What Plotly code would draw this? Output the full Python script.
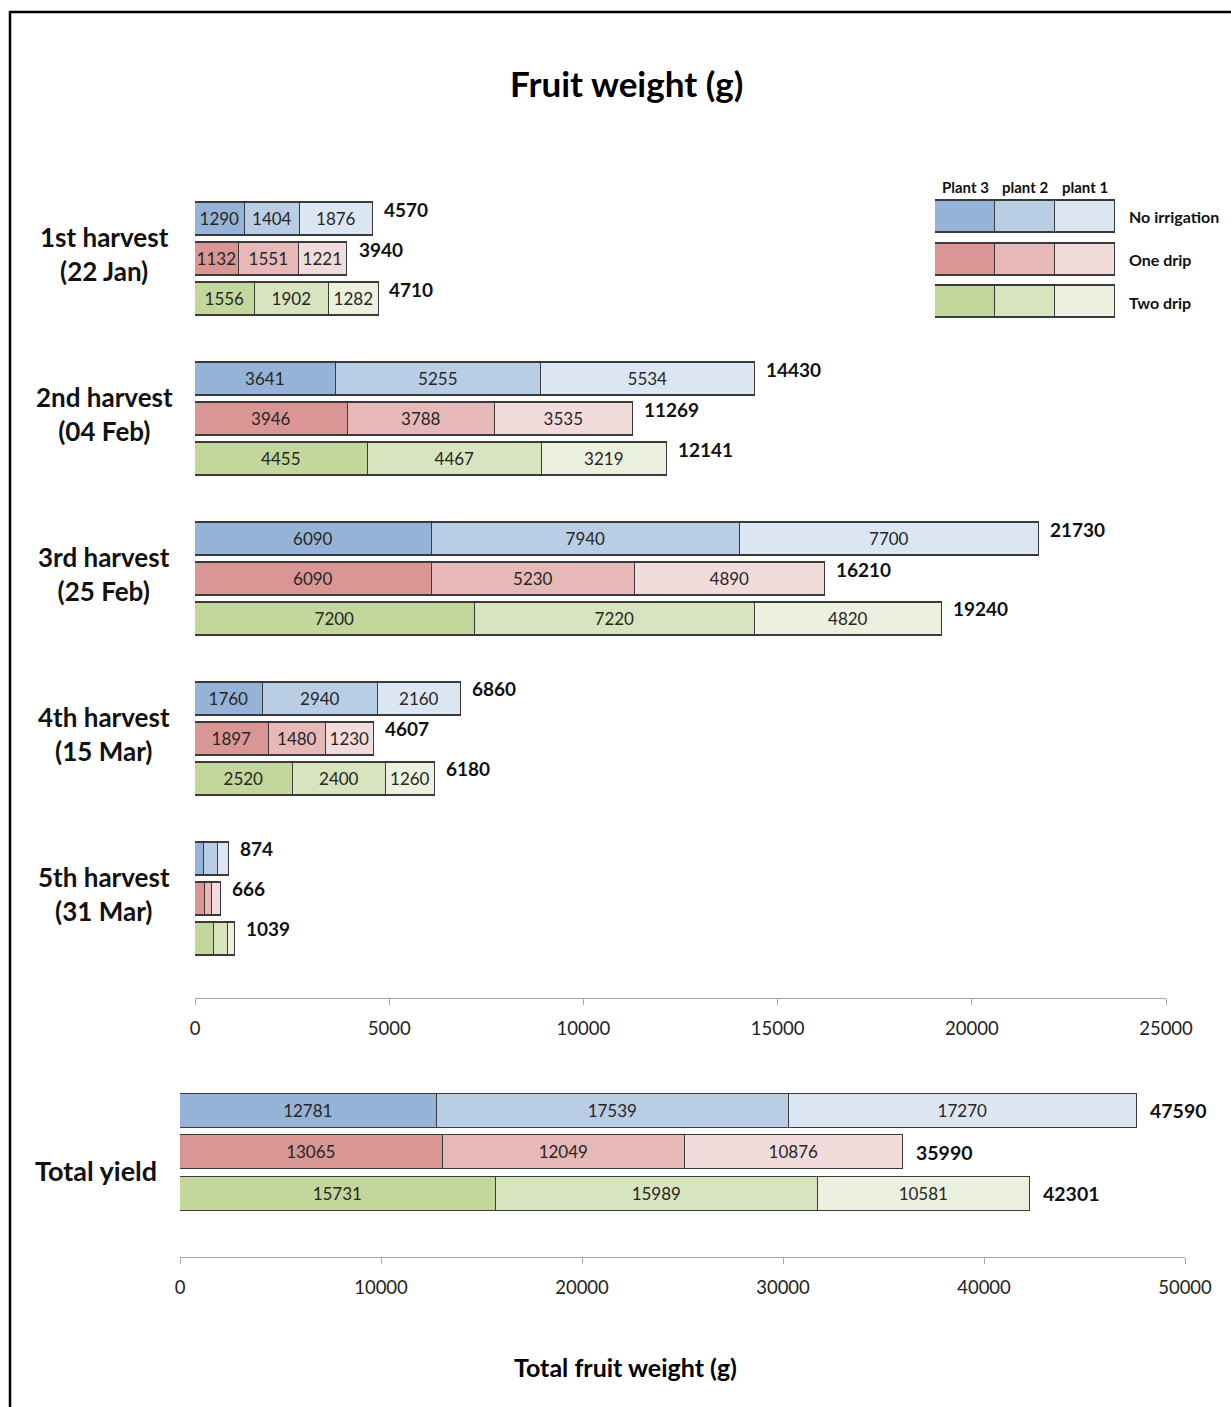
import plotly.graph_objects as go

# ---------------- data ----------------
harvests = ["1st harvest<br>(22 Jan)", "2nd harvest<br>(04 Feb)", "3rd harvest<br>(25 Feb)",
            "4th harvest<br>(15 Mar)", "5th harvest<br>(31 Mar)"]
treatments = ["No irrigation", "One drip", "Two drip"]
plants = ["Plant 3", "plant 2", "plant 1"]

plant3 = [[1290, 1132, 1556], [3641, 3946, 4455], [6090, 6090, 7200], [1760, 1897, 2520], [220, 265, 500]]
plant2 = [[1404, 1551, 1902], [5255, 3788, 4467], [7940, 5230, 7220], [2940, 1480, 2400], [380, 160, 345]]
plant1 = [[1876, 1221, 1282], [5534, 3535, 3219], [7700, 4890, 4820], [2160, 1230, 1260], [274, 241, 194]]
harvest_totals = [[4570, 3940, 4710], [14430, 11269, 12141], [21730, 16210, 19240],
                  [6860, 4607, 6180], [874, 666, 1039]]
show_segment_labels = [True, True, True, True, False]

yield_plant3 = [12781, 13065, 15731]
yield_plant2 = [17539, 12049, 15989]
yield_plant1 = [17270, 10876, 10581]
yield_totals = [47590, 35990, 42301]

top_ticks = [0, 5000, 10000, 15000, 20000, 25000]
bottom_ticks = [0, 10000, 20000, 30000, 40000, 50000]

# ---------------- style ----------------
colors = {
    "No irrigation": ["#95B3D7", "#B9CDE5", "#DCE6F2"],
    "One drip": ["#D99694", "#E6B9B8", "#F2DCDB"],
    "Two drip": ["#C3D69B", "#D7E4BD", "#EBF1DE"],
}
FONT = "Lato"
W, H = 1231, 1407
EDGE = "#3A3A3A"
AXC = "#A6A6A6"


def px_x(v):
    return v / W


def px_y(v):
    return (H - v) / H


fig = go.Figure()

# ---------------- top chart (per harvest) ----------------
ng = len(harvests)
ypos = []
for g in range(ng):
    for t in range(3):
        ypos.append(g * 4 + t)

series = [plant3, plant2, plant1]
for p in range(3):
    xs, cols, texts = [], [], []
    for g in range(ng):
        for t in range(3):
            v = series[p][g][t]
            xs.append(v)
            cols.append(colors[treatments[t]][p])
            texts.append(str(v) if show_segment_labels[g] else "")
    fig.add_trace(go.Bar(
        x=xs, y=ypos, orientation="h", width=0.825,
        marker=dict(color=cols, line=dict(color=EDGE, width=1.4)),
        text=texts, textposition="inside", insidetextanchor="middle",
        textangle=0, constraintext="none",
        textfont=dict(family=FONT, size=17, color="#262626"),
        xaxis="x", yaxis="y", showlegend=False, hoverinfo="x",
    ))

for g in range(ng):
    for t in range(3):
        fig.add_annotation(
            x=harvest_totals[g][t], y=g * 4 + t, xref="x", yref="y",
            text=f"<b>{harvest_totals[g][t]}</b>", showarrow=False,
            xanchor="left", yanchor="middle", xshift=9, yshift=10,
            font=dict(family=FONT, size=19, color="#111"))
    fig.add_annotation(
        x=px_x(104), y=g * 4 + 1, xref="paper", yref="y",
        text=f"<b>{harvests[g]}</b>", showarrow=False, xanchor="center", yanchor="middle",
        yshift=5, align="center",
        font=dict(family=FONT, size=26, color="#111"))

# ---------------- bottom chart (total yield) ----------------
yseries = [yield_plant3, yield_plant2, yield_plant1]
for p in range(3):
    fig.add_trace(go.Bar(
        x=yseries[p], y=[0, 1, 2], orientation="h", width=0.82,
        marker=dict(color=[colors[t][p] for t in treatments], line=dict(color=EDGE, width=1.4)),
        text=[str(v) for v in yseries[p]], textposition="inside", insidetextanchor="middle",
        textangle=0, constraintext="none",
        textfont=dict(family=FONT, size=17, color="#262626"),
        xaxis="x2", yaxis="y2", showlegend=False, hoverinfo="x",
    ))
for t in range(3):
    fig.add_annotation(
        x=yield_totals[t], y=t, xref="x2", yref="y2",
        text=f"<b>{yield_totals[t]}</b>", showarrow=False,
        xanchor="left", yanchor="middle", xshift=11,
        font=dict(family=FONT, size=19.5, color="#111"))
fig.add_annotation(
    x=px_x(96), y=1, xref="paper", yref="y2", text="<b>Total yield</b>", showarrow=False,
    xanchor="center", yanchor="middle", yshift=-18,
    font=dict(family=FONT, size=27, color="#111"))

# ---------------- legend (as small stacked bars) ----------------
for p in range(3):
    fig.add_trace(go.Bar(
        x=[1, 1, 1], y=[0, 1, 2], orientation="h", width=0.75,
        marker=dict(color=[colors[t][p] for t in treatments], line=dict(color=EDGE, width=1.4)),
        xaxis="x3", yaxis="y3", showlegend=False, hoverinfo="skip",
    ))
for p in range(3):
    fig.add_annotation(
        x=p + 0.5, y=px_y(187), xref="x3", yref="paper", text=f"<b>{plants[p]}</b>",
        showarrow=False, xanchor="center", yanchor="middle",
        font=dict(family=FONT, size=15, color="#111"))
for t in range(3):
    fig.add_annotation(
        x=px_x(1127), y=t, xref="paper", yref="y3", text=f"<b>{treatments[t]}</b>",
        showarrow=False, xanchor="left", yanchor="middle",
        font=dict(family=FONT, size=16, color="#111"))

# ---------------- titles ----------------
fig.add_annotation(x=px_x(626), y=px_y(83), xref="paper", yref="paper",
                   text="<b>Fruit weight (g)</b>", showarrow=False,
                   xanchor="center", yanchor="middle",
                   font=dict(family=FONT, size=35, color="#000"))
fig.add_annotation(x=px_x(625), y=px_y(1367), xref="paper", yref="paper",
                   text="<b>Total fruit weight (g)</b>", showarrow=False,
                   xanchor="center", yanchor="middle",
                   font=dict(family=FONT, size=25, color="#000"))

# frame
fig.add_shape(type="rect", xref="paper", yref="paper",
              x0=px_x(10), x1=1.2, y0=-0.2, y1=px_y(12),
              line=dict(color="#000", width=2.5), fillcolor="rgba(0,0,0,0)")

xaxis_common = dict(showline=True, linecolor=AXC, linewidth=1.2, ticks="outside",
                    ticklen=6, tickcolor=AXC, showgrid=False, zeroline=False,
                    tickfont=dict(family=FONT, size=18.5, color="#222"),
                    ticklabelstandoff=8, fixedrange=True, automargin=False)
yaxis_common = dict(showline=False, showgrid=False, zeroline=False,
                    showticklabels=False, ticks="", fixedrange=True, automargin=False)

fig.update_layout(
    template="none",
    width=W, height=H, autosize=False,
    margin=dict(l=0, r=0, t=0, b=0, pad=0, autoexpand=False),
    paper_bgcolor="white", plot_bgcolor="rgba(0,0,0,0)",
    barmode="stack", bargap=0,
    font=dict(family=FONT),
    xaxis=dict(domain=[px_x(195), px_x(1166)], range=[0, 25000],
               tickvals=top_ticks, ticktext=[str(v) for v in top_ticks],
               anchor="y", **xaxis_common),
    yaxis=dict(domain=[px_y(998), px_y(179.5)], range=[19.4875, -1.0],
               anchor="x", **yaxis_common),
    xaxis2=dict(domain=[px_x(180), px_x(1185)], range=[0, 50000],
                tickvals=bottom_ticks, ticktext=[str(v) for v in bottom_ticks],
                anchor="y2", **xaxis_common),
    yaxis2=dict(domain=[px_y(1257), px_y(1086)], range=[3.518, -0.6],
                anchor="x2", **yaxis_common),
    xaxis3=dict(domain=[px_x(935), px_x(1115)], range=[0, 3], visible=False,
                anchor="y3", fixedrange=True, automargin=False),
    yaxis3=dict(domain=[px_y(323.25), px_y(195.75)], range=[2.5, -0.5], visible=False,
                anchor="x3", fixedrange=True, automargin=False),
)

fig.write_html(
    "out.html",
    config={"responsive": False, "displayModeBar": False},
    post_script="document.body.style.margin='0';document.body.style.overflow='hidden';"
                "document.documentElement.style.overflow='hidden';",
)
